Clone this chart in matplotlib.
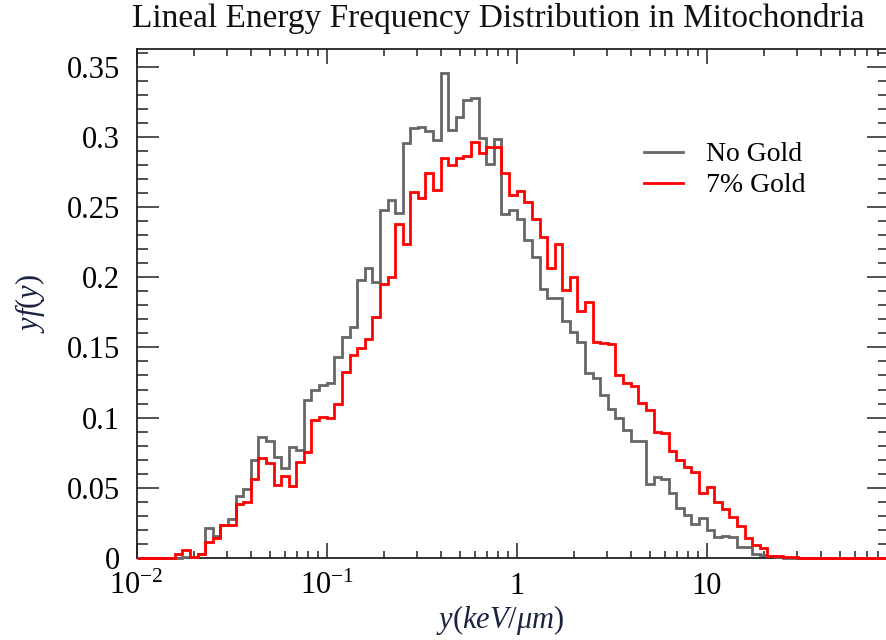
import numpy as np
import matplotlib
matplotlib.use("Agg")
import matplotlib.pyplot as plt
from matplotlib.ticker import FixedLocator, NullFormatter

# ---- data ----
bins_per_decade = 25
log_start = -2
n_bins = 100

no_gold = [
    0, 0, 0, 0, 0, 0, 0.001, 0.001, 0.003, 0.0214,
    0.0154, 0.0237, 0.0278, 0.0444, 0.0491, 0.070, 0.0862, 0.0836, 0.0717, 0.0641,
    0.0788, 0.0772, 0.1123, 0.120, 0.1232, 0.1249, 0.1434, 0.1576, 0.1643, 0.198,
    0.2063, 0.1968, 0.2479, 0.255, 0.2455, 0.2953, 0.306, 0.3067, 0.3044, 0.2977,
    0.3452, 0.3048, 0.3143, 0.3262, 0.3274, 0.2989, 0.2806, 0.2982, 0.245, 0.2479,
    0.2412, 0.2265, 0.2146, 0.1914, 0.185, 0.185, 0.169, 0.1612, 0.1541, 0.132,
    0.128, 0.1161, 0.1059, 0.0995, 0.0912, 0.0833, 0.0833, 0.0527, 0.0575, 0.056,
    0.0465, 0.0354, 0.0306, 0.0242, 0.0283, 0.0199, 0.0147, 0.0157, 0.0147, 0.0076,
    0.0076, 0.0028, 0.002, 0.0014, 0.0005, 0, 0, 0, 0, 0,
    0, 0, 0, 0, 0, 0, 0, 0, 0, 0,
]

gold_7 = [
    0, 0, 0, 0, 0, 0.0028, 0.0059, 0.0006, 0.0031, 0.0114,
    0.0142, 0.0233, 0.0237, 0.0385, 0.0399, 0.0565, 0.0712, 0.0677, 0.0522, 0.0582,
    0.0515, 0.0684, 0.0753, 0.0985, 0.1007, 0.0995, 0.110, 0.1327, 0.1446, 0.1493,
    0.1557, 0.1719, 0.1952, 0.1999, 0.2379, 0.2236, 0.2604, 0.2562, 0.274, 0.2621,
    0.2847, 0.2799, 0.2847, 0.2866, 0.2965, 0.2887, 0.2925, 0.2925, 0.2745, 0.2585,
    0.2614, 0.2538, 0.2412, 0.2289, 0.2063, 0.2234, 0.1909, 0.2004, 0.1762, 0.1826,
    0.1541, 0.1534, 0.1524, 0.1300, 0.1249, 0.1225, 0.1102, 0.1054, 0.090, 0.0893,
    0.0764, 0.0698, 0.0646, 0.061, 0.0465, 0.0503, 0.0401, 0.0349, 0.0294, 0.0228,
    0.014, 0.0093, 0.0069, 0.0014, 0.0014, 0.0005, 0.0005, 0, 0, 0,
    0, 0, 0, 0, 0, 0, 0, 0, 0, 0,
]

series_labels = ["No Gold", "7% Gold"]
x_major = [0.01, 0.1, 1, 10]
x_major_labels = [r"$10^{-2}$", r"$10^{-1}$", "1", "10"]
y_major = [0, 0.05, 0.1, 0.15, 0.2, 0.25, 0.3, 0.35]
y_major_labels = ["0", "0.05", "0.1", "0.15", "0.2", "0.25", "0.3", "0.35"]
title = "Lineal Energy Frequency Distribution in Mitochondria"
xlabel = r"$y(keV/\mu m)$"
ylabel = r"$yf(y)$"

# ---- style ----
serif = "Liberation Serif"
plt.rcParams["font.family"] = [serif, "DejaVu Serif"]
plt.rcParams["mathtext.fontset"] = "custom"
plt.rcParams["mathtext.rm"] = serif
plt.rcParams["mathtext.it"] = serif + ":italic"
plt.rcParams["mathtext.bf"] = serif + ":bold"

W, H = 887, 640
fig = plt.figure(figsize=(W / 100, H / 100), dpi=100)
left_px, right_px, top_px, bottom_px = 136.7, 889.0, 49.0, 558.0
ax = fig.add_axes([left_px / W, 1 - bottom_px / H,
                   (right_px - left_px) / W, (bottom_px - top_px) / H])

edges = 10.0 ** (log_start + np.arange(n_bins + 1) / bins_per_decade)
ax.stairs(no_gold, edges, baseline=None, color="#666666", linewidth=2.0,
          label=series_labels[0], zorder=3, clip_on=False)
ax.stairs(gold_7, edges, baseline=None, color="#ff0000", linewidth=2.0,
          label=series_labels[1], zorder=4, clip_on=False)

ax.set_xscale("log")
decades_visible = (right_px - left_px) / 190.0
ax.set_xlim(0.01, 10 ** (log_start + decades_visible))
ax.set_ylim(0, 0.3625)

ax.set_xticks(x_major, x_major_labels)
minor_x = [m * 10.0 ** e for e in range(-2, 2) for m in range(2, 10)]
ax.xaxis.set_minor_locator(FixedLocator(minor_x))
ax.xaxis.set_minor_formatter(NullFormatter())
ax.set_yticks(y_major, y_major_labels)
ax.yaxis.set_minor_locator(FixedLocator(np.arange(0, 0.361, 0.01)))

for s in ax.spines.values():
    s.set_linewidth(1.3)
    s.set_color("#222222")

ax.tick_params(axis="both", which="both", direction="in", top=True, right=True,
               color="#222222", width=1.1)
ax.tick_params(axis="x", which="major", length=10.5, pad=10, labelsize=22)
ax.tick_params(axis="x", which="minor", length=5)
ax.tick_params(axis="y", which="major", length=16, pad=12, labelsize=22)
ax.tick_params(axis="y", which="minor", length=8)

ax.set_xlabel(xlabel, fontsize=22, color="#1a2440")
ax.xaxis.set_label_coords((500 - left_px) / (right_px - left_px), -0.088)
ax.set_ylabel(ylabel, fontsize=22, color="#1a2440", labelpad=14)

fig.text(498 / W, 1 - 19 / H, title, ha="center", va="center",
         fontsize=24, color="#111111")

leg = ax.legend(loc="upper left", bbox_to_anchor=(630 / W, 1 - 128 / H),
                bbox_transform=fig.transFigure, frameon=False, fontsize=20,
                handlelength=1.4, handletextpad=0.85, labelspacing=0.2,
                borderpad=0)
for line in leg.get_lines():
    line.set_linewidth(2.0)

fig.savefig("out.png", dpi=100)
